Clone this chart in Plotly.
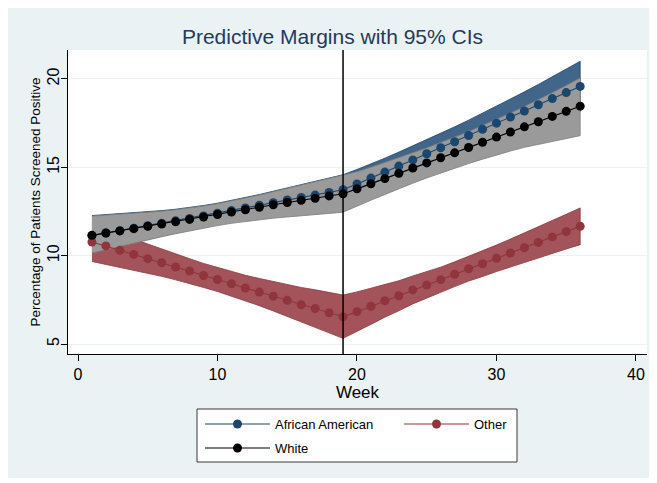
import plotly.graph_objects as go

# ---------------- data ----------------
weeks = list(range(1, 37))
break_week = 19

aa = [11.14, 11.28, 11.41, 11.55, 11.69, 11.83, 11.97, 12.11, 12.25, 12.40,
      12.55, 12.70, 12.85, 13.00, 13.15, 13.29, 13.43, 13.58, 13.73, 14.06,
      14.39, 14.73, 15.07, 15.42, 15.77, 16.11, 16.45, 16.80, 17.15, 17.50,
      17.85, 18.19, 18.54, 18.89, 19.23, 19.58]
aa_hi = [12.27, 12.32, 12.36, 12.42, 12.48, 12.55, 12.63, 12.72, 12.84, 12.97,
         13.12, 13.28, 13.46, 13.65, 13.84, 14.02, 14.20, 14.39, 14.58, 14.88,
         15.19, 15.52, 15.86, 16.21, 16.57, 16.93, 17.29, 17.67, 18.06, 18.46,
         18.87, 19.27, 19.69, 20.12, 20.55, 21.00]
aa_lo = [10.20, 10.38, 10.56, 10.74, 10.92, 11.10, 11.28, 11.46, 11.63, 11.79,
         11.94, 12.07, 12.19, 12.30, 12.40, 12.49, 12.58, 12.68, 12.77, 13.15,
         13.52, 13.89, 14.25, 14.61, 14.96, 15.29, 15.61, 15.93, 16.24, 16.54,
         16.83, 17.11, 17.39, 17.66, 17.91, 18.16]

other = [10.77, 10.55, 10.30, 10.07, 9.83, 9.60, 9.36, 9.13, 8.88, 8.65,
         8.41, 8.17, 7.94, 7.70, 7.47, 7.22, 7.01, 6.77, 6.54, 6.83,
         7.13, 7.45, 7.73, 8.06, 8.34, 8.64, 8.95, 9.26, 9.54, 9.85,
         10.15, 10.45, 10.75, 11.06, 11.36, 11.66]
other_hi = [11.87, 11.58, 11.26, 10.96, 10.66, 10.37, 10.09, 9.83, 9.56, 9.33,
            9.10, 8.89, 8.71, 8.53, 8.37, 8.20, 8.07, 7.91, 7.77, 7.95,
            8.15, 8.38, 8.58, 8.85, 9.08, 9.35, 9.65, 9.96, 10.26, 10.60,
            10.94, 11.28, 11.63, 11.99, 12.34, 12.70]
other_lo = [9.67, 9.52, 9.34, 9.18, 9.00, 8.83, 8.63, 8.43, 8.20, 7.97,
            7.72, 7.45, 7.17, 6.87, 6.57, 6.24, 5.95, 5.63, 5.32, 5.71,
            6.11, 6.52, 6.88, 7.27, 7.60, 7.93, 8.25, 8.56, 8.82, 9.10,
            9.36, 9.62, 9.87, 10.13, 10.38, 10.62]

white = [11.15, 11.28, 11.40, 11.53, 11.66, 11.79, 11.92, 12.05, 12.19, 12.33,
         12.47, 12.60, 12.74, 12.88, 13.01, 13.13, 13.25, 13.38, 13.50, 13.78,
         14.07, 14.36, 14.66, 14.96, 15.25, 15.54, 15.82, 16.12, 16.42, 16.71,
         17.00, 17.29, 17.58, 17.88, 18.17, 18.46]
white_hi = [12.24, 12.29, 12.33, 12.39, 12.45, 12.52, 12.60, 12.69, 12.81, 12.94,
            13.09, 13.25, 13.43, 13.62, 13.81, 13.99, 14.17, 14.36, 14.53, 14.75,
            15.00, 15.26, 15.53, 15.82, 16.10, 16.40, 16.69, 17.02, 17.37, 17.71,
            18.07, 18.44, 18.82, 19.22, 19.63, 20.06]
white_lo = [10.15, 10.34, 10.52, 10.71, 10.89, 11.07, 11.24, 11.40, 11.56, 11.70,
            11.83, 11.93, 12.03, 12.12, 12.19, 12.25, 12.31, 12.39, 12.46, 12.80,
            13.14, 13.47, 13.79, 14.10, 14.40, 14.68, 14.95, 15.21, 15.46, 15.70,
            15.92, 16.13, 16.30, 16.47, 16.63, 16.79]

series_names = ["African American", "Other", "White"]
x_ticks = [0, 10, 20, 30, 40]
y_ticks = [5, 10, 15, 20]

# ---------------- styling ----------------
FONT = "Liberation Sans, Arial, sans-serif"
BG = "#EAF2F3"
OFF = 8                      # page body margin in the browser
W, H = 657 - OFF, 483 - OFF  # figure size so it fills the window
ML, MR, MT, MB = 60, 10, 42, 129
PW, PH = W - ML - MR, H - MT - MB


def px_x(px):
    """page pixel x -> plot-area paper fraction"""
    return (px - OFF - ML) / PW


def px_y(py):
    """page pixel y -> plot-area paper fraction"""
    return (H - MB - (py - OFF)) / PH


line_col = {"African American": "#1a476f", "Other": "#90353b", "White": "#000000"}
band_fill = {"African American": "#41668a", "Other": "#a3545b", "White": "#9a9a9a"}
band_edge = {"African American": "#1a476f", "Other": "#90353b", "White": "#7d7d7d"}

vals = {"African American": (aa, aa_lo, aa_hi),
        "Other": (other, other_lo, other_hi),
        "White": (white, white_lo, white_hi)}

fig = go.Figure()

# CI bands first
for name in series_names:
    m, lo, hi = vals[name]
    fig.add_trace(go.Scatter(
        x=weeks + weeks[::-1], y=hi + lo[::-1],
        fill="toself", fillcolor=band_fill[name], mode="lines",
        line=dict(color=band_edge[name], width=0.8),
        showlegend=False, hoverinfo="skip"))

# lines with markers
for name in series_names:
    m, lo, hi = vals[name]
    fig.add_trace(go.Scatter(
        x=weeks, y=m, name=name, mode="lines+markers",
        line=dict(color=line_col[name], width=1.1),
        marker=dict(symbol="circle", size=9, color=line_col[name]),
        legend="legend2" if name == "White" else "legend"))

shapes = [
    # white outer margins (right and bottom; top/left come from the page margin)
    dict(type="rect", xref="paper", yref="paper", x0=px_x(0), x1=px_x(700), y0=px_y(478), y1=px_y(520),
         fillcolor="white", line=dict(width=0), layer="below"),
    dict(type="rect", xref="paper", yref="paper", x0=px_x(649), x1=px_x(700), y0=px_y(0), y1=px_y(520),
         fillcolor="white", line=dict(width=0), layer="below"),
    # legend box
    dict(type="rect", xref="paper", yref="paper", x0=px_x(197), x1=px_x(517), y0=px_y(462), y1=px_y(409),
         fillcolor="white", line=dict(color="#3a3a3a", width=1), layer="above"),
    # vertical reference line
    dict(type="line", xref="x", yref="paper", x0=break_week, x1=break_week, y0=0, y1=1,
         line=dict(color="black", width=1.5), layer="above"),
]

legend_common = dict(orientation="h", xanchor="left", yanchor="middle",
                     bgcolor="rgba(0,0,0,0)", borderwidth=0, font=dict(size=13, family=FONT),
                     entrywidth=119, entrywidthmode="pixels", itemwidth=65)

fig.update_layout(
    width=W, height=H, autosize=False,
    margin=dict(l=ML, r=MR, t=MT, b=MB, pad=0, autoexpand=False),
    paper_bgcolor=BG, plot_bgcolor="white",
    font=dict(family=FONT, color="black"),
    title=dict(text="Predictive Margins with 95% CIs", x=0.5, xref="container", xanchor="center",
               y=1 - (37 - OFF) / H, yref="container", yanchor="middle", automargin=False,
               font=dict(family=FONT, size=21, color="#1f3a60")),
    xaxis=dict(range=[-0.717, 40.79], tickvals=x_ticks, ticks="outside", ticklen=6,
               tickcolor="black", showline=True, linecolor="black", linewidth=1,
               showgrid=False, zeroline=False, tickfont=dict(size=16), automargin=False,
               title=dict(text="Week", font=dict(size=17), standoff=0)),
    yaxis=dict(range=[4.434, 21.64], tickvals=y_ticks, ticks="outside", ticklen=6,
               tickcolor="black", showline=True, linecolor="black", linewidth=1,
               showgrid=True, gridcolor=BG, gridwidth=1, zeroline=False, automargin=False,
               tickangle=-90, tickfont=dict(size=16), ticklabelstandoff=-4,
               title=dict(text="Percentage of Patients Screened Positive", font=dict(size=13.5), standoff=0)),
    legend=dict(x=px_x(200), y=px_y(424), **legend_common),
    legend2=dict(x=px_x(200), y=px_y(448), **legend_common),
    shapes=shapes,
    showlegend=True,
)

fig.write_html("out.html")
